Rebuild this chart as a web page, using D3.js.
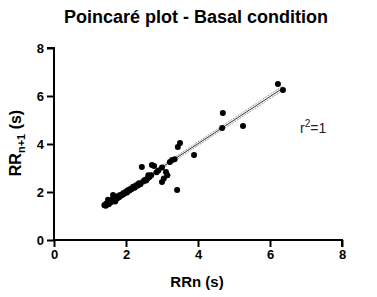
<!DOCTYPE html>
<html>
<head>
<meta charset="utf-8">
<script src="https://cdn.jsdelivr.net/npm/d3@7"></script>
<style>
  body { margin: 0; background: #fff; }
  svg { display: block; font-family: "Liberation Sans", Arial, sans-serif; }
</style>
</head>
<body>
<div id="chart"></div>
<script>
// Data
const rrN = [
  1.40, 1.42, 1.44, 1.46, 1.48, 1.50, 1.52, 1.53, 1.55, 1.57,
  1.58, 1.60, 1.62, 1.63, 1.65, 1.66, 1.68, 1.70, 1.72, 1.74,
  1.76, 1.78, 1.80, 1.82, 1.85, 1.88, 1.90, 1.93, 1.96, 2.00,
  2.03, 2.06, 2.10, 2.13, 2.16, 2.20, 2.24, 2.28, 2.32, 2.36,
  2.40, 2.44, 2.48, 2.52, 2.56, 2.60, 2.65, 2.70, 2.72, 2.78,
  2.85, 2.90, 3.00, 3.05, 3.11, 3.15, 3.22, 3.28, 3.35, 3.42,
  3.44, 3.50, 3.89, 4.67, 4.69, 5.25, 6.22, 6.36,
  1.50, 1.64, 1.70, 1.82, 2.62, 3.00
];
const rrN1 = [
  1.45, 1.48, 1.43, 1.52, 1.50, 1.56, 1.49, 1.60, 1.55, 1.62,
  1.58, 1.66, 1.60, 1.70, 1.64, 1.72, 1.68, 1.74, 1.70, 1.78,
  1.74, 1.82, 1.78, 1.86, 1.84, 1.90, 1.88, 1.96, 1.94, 2.02,
  1.98, 2.08, 2.06, 2.14, 2.12, 2.22, 2.18, 2.28, 2.26, 2.36,
  2.32, 3.04, 2.44, 2.50, 2.48, 2.56, 2.62, 2.70, 3.12, 3.08,
  2.82, 2.90, 2.42, 2.56, 2.83, 2.70, 3.25, 3.33, 3.36, 2.08,
  3.88, 4.04, 3.54, 4.67, 5.29, 4.75, 6.50, 6.25,
  1.68, 1.88, 1.60, 1.80, 2.70, 3.02
];
const points = rrN.map((x, i) => ({ x, y: rrN1[i] }));

const xTicks = [0, 2, 4, 6, 8];
const yTicks = [0, 2, 4, 6, 8];

// Regression line (from the fit shown) and its confidence band offsets
const fitX = [1.40, 6.36];
const fitY = [1.46, 6.33];
const bandOffset = [0.06, 0.09];

// Dimensions
const dimensions = { width: 377, height: 297 };
const plot = { left: 54, right: 342, top: 48, bottom: 240 };

const svg = d3.select("#chart")
  .append("svg")
  .attr("width", dimensions.width)
  .attr("height", dimensions.height);

// Scales
const xScale = d3.scaleLinear().domain([0, 8]).range([plot.left, plot.right]);
const yScale = d3.scaleLinear().domain([0, 8]).range([plot.bottom, plot.top]);

// Title
svg.append("text")
  .attr("x", 196)
  .attr("y", 23)
  .attr("text-anchor", "middle")
  .attr("font-size", 18)
  .attr("font-weight", "bold")
  .text("Poincaré plot - Basal condition");

// Axes
const xAxis = d3.axisBottom(xScale).tickValues(xTicks).tickSize(7).tickPadding(3).tickFormat(d3.format("d"));
const yAxis = d3.axisLeft(yScale).tickValues(yTicks).tickSize(7).tickPadding(3).tickFormat(d3.format("d"));

const xAxisGroup = svg.append("g")
  .attr("transform", `translate(0, ${plot.bottom})`)
  .call(xAxis);

const yAxisGroup = svg.append("g")
  .attr("transform", `translate(${plot.left}, 0)`)
  .call(yAxis);

[xAxisGroup, yAxisGroup].forEach((g) => {
  g.select(".domain").attr("stroke", "#000").attr("stroke-width", 2)
    .attr("d", g === xAxisGroup
      ? `M${plot.left - 1},0H${plot.right}V7`
      : `M-7,${plot.top}H0V${plot.bottom + 1}`);
  g.selectAll(".tick line").attr("stroke", "#000").attr("stroke-width", 2);
  g.selectAll(".tick text")
    .attr("fill", "#000")
    .attr("font-size", 13)
    .attr("font-weight", "bold")
    .attr("font-family", "Liberation Sans, Arial, sans-serif");
});

// Axis labels
svg.append("text")
  .attr("x", 197)
  .attr("y", 287)
  .attr("text-anchor", "middle")
  .attr("font-size", 15)
  .attr("font-weight", "bold")
  .text("RRn (s)");

const yLabel = svg.append("text")
  .attr("transform", "translate(21, 143) rotate(-90)")
  .attr("text-anchor", "middle")
  .attr("font-size", 16)
  .attr("font-weight", "bold");
yLabel.append("tspan").text("RR");
yLabel.append("tspan").attr("font-size", 11).attr("dy", 4).text("n+1");
yLabel.append("tspan").attr("dy", -4).text(" (s)");

// Confidence band lines (dotted)
const line = d3.line().x((d) => xScale(d[0])).y((d) => yScale(d[1]));
[-1, 1].forEach((s) => {
  svg.append("path")
    .attr("d", line(fitX.map((x, i) => [x, fitY[i] + s * bandOffset[i]])))
    .attr("fill", "none")
    .attr("stroke", "#555")
    .attr("stroke-width", 0.8)
    .attr("stroke-dasharray", "1,1");
});

// Points
svg.append("g")
  .selectAll("circle")
  .data(points)
  .join("circle")
  .attr("cx", (d) => xScale(d.x))
  .attr("cy", (d) => yScale(d.y))
  .attr("r", 3)
  .attr("fill", "#000");

// Regression line
svg.append("path")
  .attr("d", line(fitX.map((x, i) => [x, fitY[i]])))
  .attr("fill", "none")
  .attr("stroke", "#000")
  .attr("stroke-width", 0.8);

// r squared annotation
const r2 = svg.append("text")
  .attr("x", 300)
  .attr("y", 133)
  .attr("font-size", 14)
  .attr("fill", "#222");
r2.append("tspan").text("r");
r2.append("tspan").attr("font-size", 10).attr("dy", -6).text("2");
r2.append("tspan").attr("dy", 6).text("=1");
</script>
</body>
</html>
